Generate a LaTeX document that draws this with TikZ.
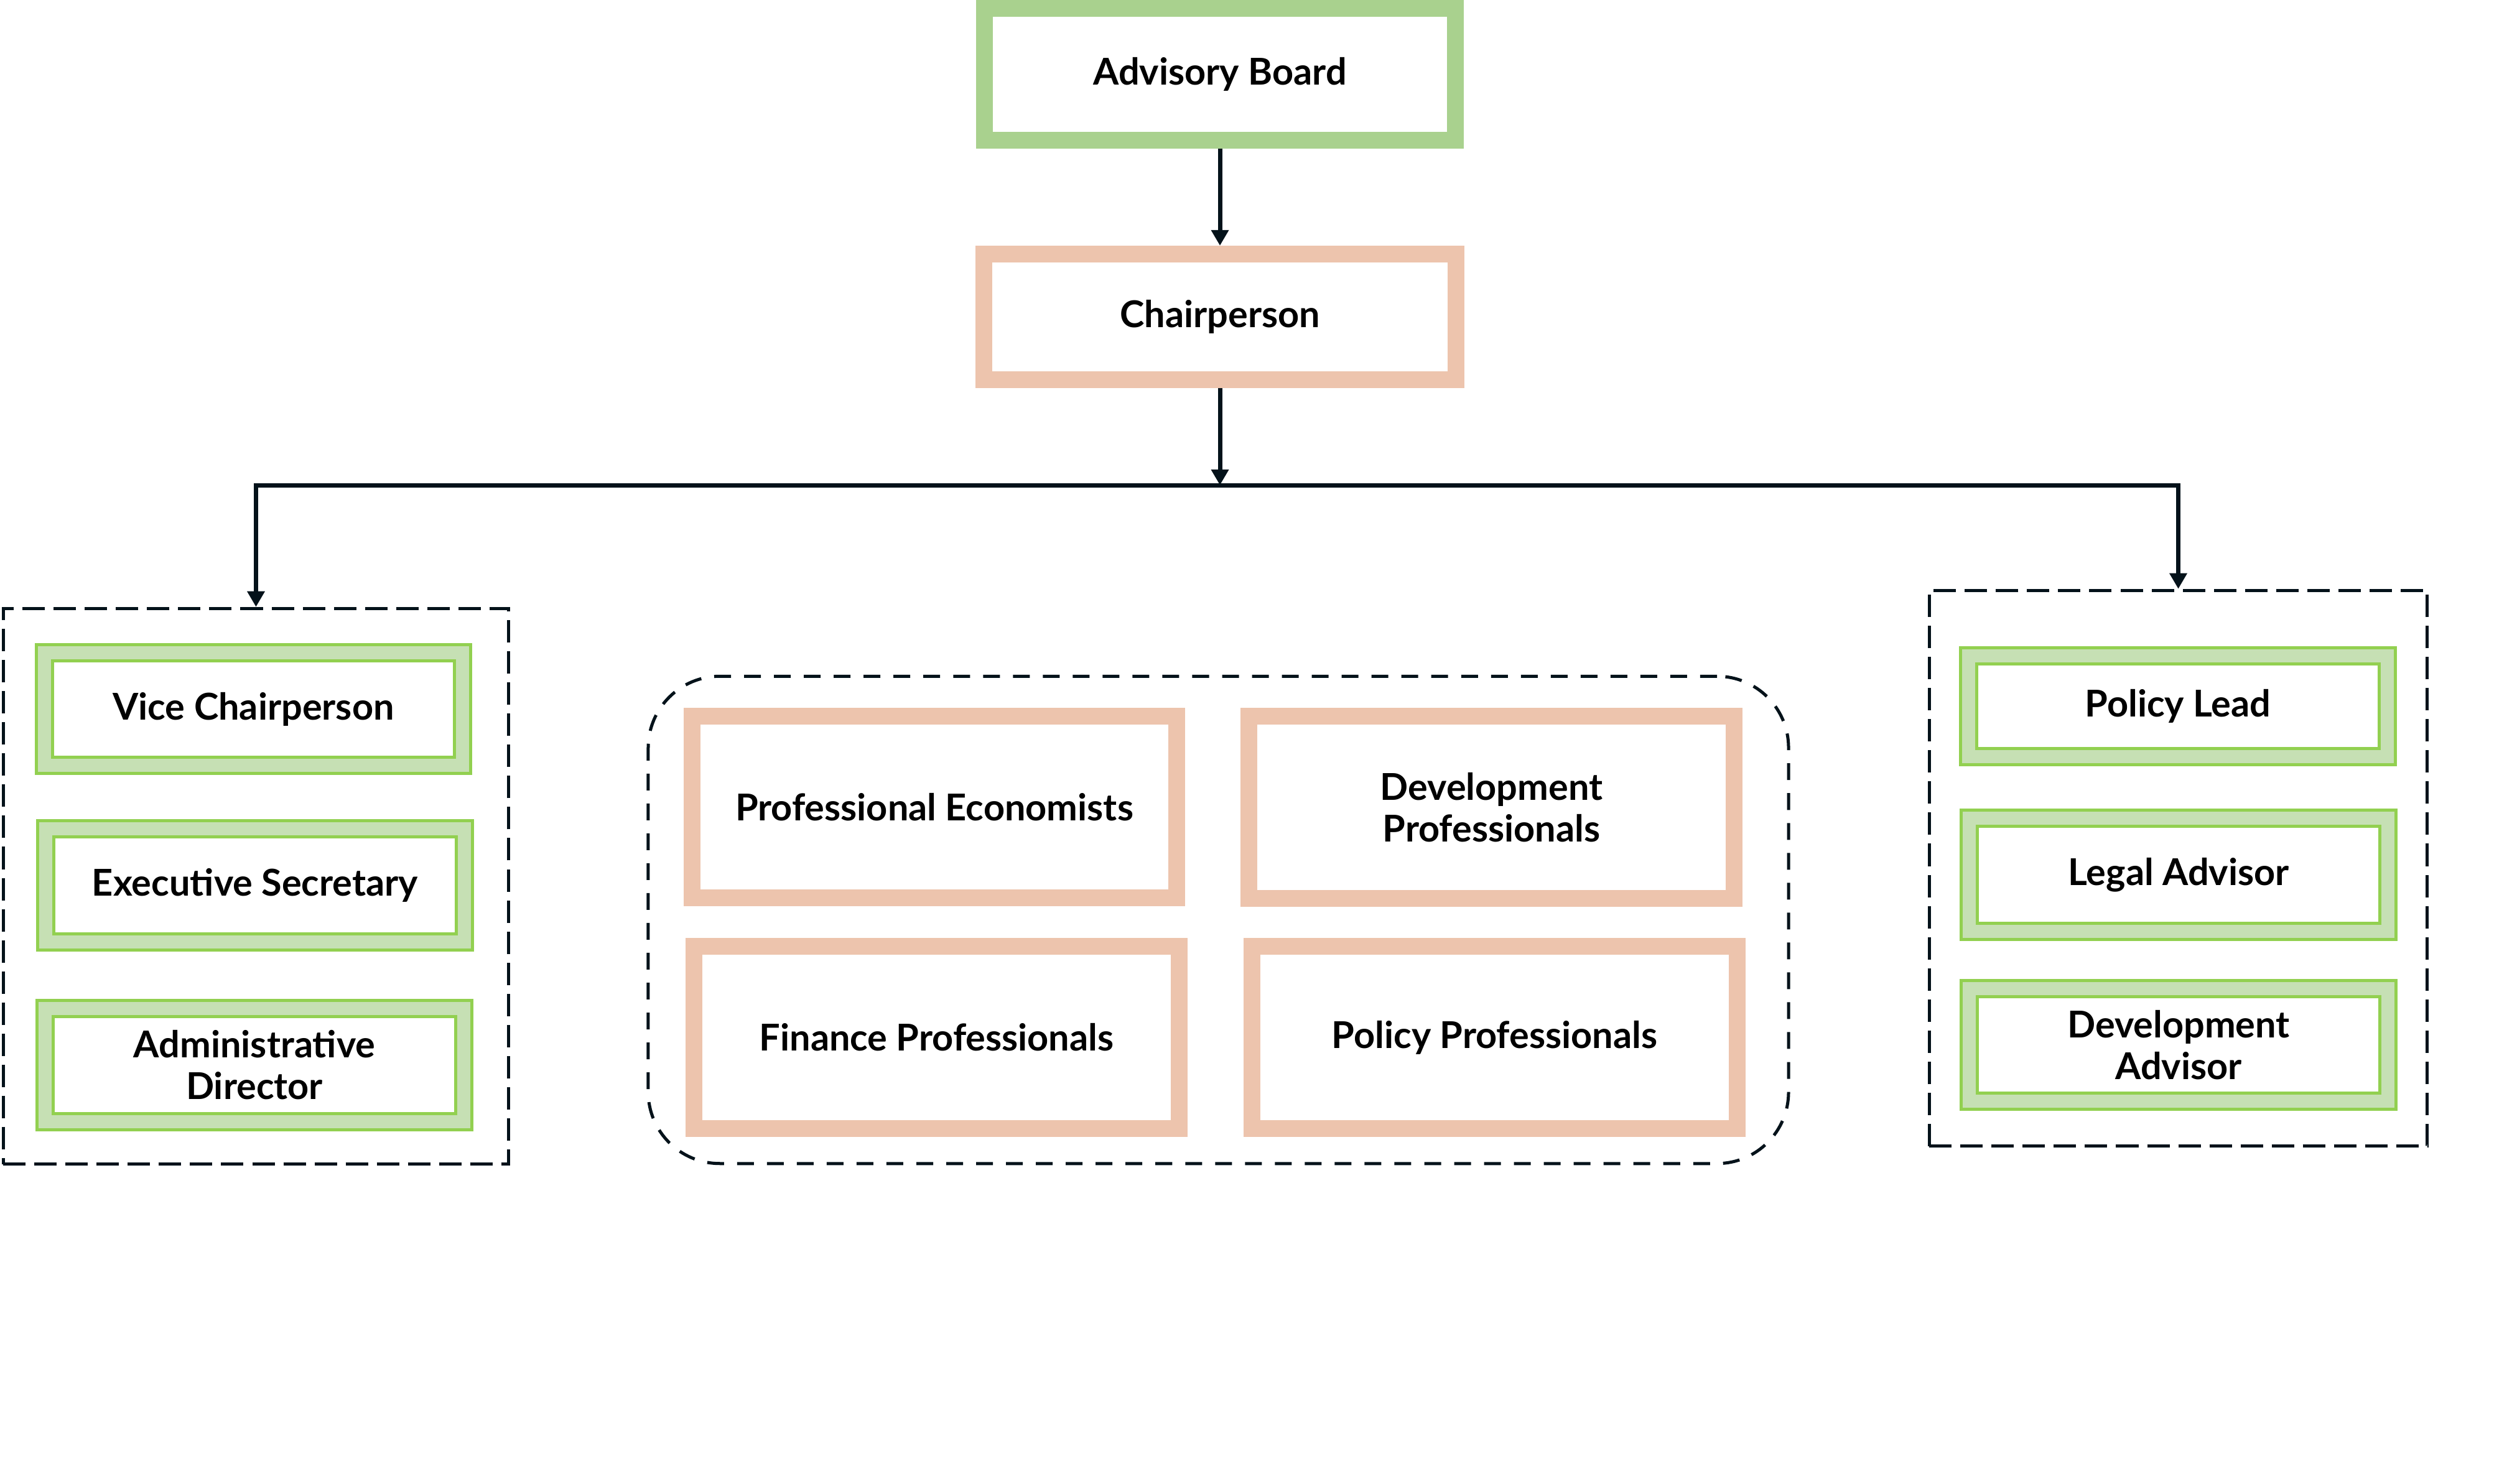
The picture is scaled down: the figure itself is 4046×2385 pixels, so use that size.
\documentclass[tikz,border=0pt]{standalone}
\usepackage{fontspec}
\setmainfont{Lato}
\usetikzlibrary{arrows.meta}
\definecolor{boardgreen}{HTML}{A9D18E}
\definecolor{peach}{HTML}{EDC4AD}
\definecolor{leafgreen}{HTML}{92D050}
\definecolor{palegreen}{HTML}{C6E0B4}
\definecolor{ink}{HTML}{04121A}
\tikzset{
  every node/.style={
    font=\fontsize{16.9}{19}\selectfont\bfseries,
    align=center,
    inner sep=0pt
  },
  board/.style={draw=boardgreen, line width=0.27cm, fill=white,
    minimum width=7.57cm, minimum height=2.12cm},
  peachbox/.style={draw=peach, line width=0.27cm, fill=white,
    minimum width=7.79cm, minimum height=2.92cm},
  greenbox/.style={draw=leafgreen, line width=0.05cm, double=palegreen,
    double distance=0.21cm, fill=white,
    minimum width=6.72cm, minimum height=1.81cm},
  sidegroup/.style={draw=ink, line width=0.05cm,
    dash pattern=on 0.36cm off 0.14cm},
  midgroup/.style={draw=ink, line width=0.05cm, rounded corners=1.15cm,
    dash pattern=on 0.27cm off 0.21cm,
    minimum width=18.32cm, minimum height=7.83cm},
  arr/.style={draw=ink, line width=0.07cm,
    -{Triangle[length=0.25cm, width=0.27cm]}}
}
\begin{document}
\begin{tikzpicture}[x=0.01cm, y=-0.01cm]
  \useasboundingbox (0,0) rectangle (4046,2385);
  % dashed groups
  \node[sidegroup, minimum width=8.12cm, minimum height=8.93cm] (staff) at (411.5,1425) {};
  \node[midgroup] (experts) at (1958.5,1479) {};
  \node[sidegroup, minimum width=8.00cm, minimum height=8.93cm] (advisors) at (3501.5,1396) {};
  % top of the chart
  \node[board] (board) at (1961,119.5) {Advisory Board};
  \node[peachbox, minimum width=7.58cm, minimum height=2.02cm] (chair) at (1961,509.5) {Chairperson};
  \coordinate (hub) at (1961,780);
  % left group
  \node[greenbox] (vice) at (407.5,1140) {Vice Chairperson};
  \node[greenbox] (secretary) at (410,1423.5) {Executive Secretary};
  \node[greenbox] (director) at (409,1712.5) {Administrative\\Director};
  % middle group
  \node[peachbox] (economists) at (1502,1297.5) {Professional Economists};
  \node[peachbox] (devpros) at (2397.5,1298) {Development\\Professionals};
  \node[peachbox] (finance) at (1505.5,1668) {Finance Professionals};
  \node[peachbox] (policypros) at (2402.5,1668) {Policy Professionals};
  % right group
  \node[greenbox, minimum height=1.62cm] (lead) at (3501,1135.5) {Policy Lead};
  \node[greenbox] (legal) at (3502,1406.5) {Legal Advisor};
  \node[greenbox] (devadvisor) at (3502,1680) {Development\\Advisor};
  % connectors
  \draw[arr] (board) -- (chair);
  \draw[arr] (chair) -- (hub);
  \draw[arr] (hub) -| (staff.north);
  \draw[arr] (hub) -| (advisors.north);
\end{tikzpicture}
\end{document}
